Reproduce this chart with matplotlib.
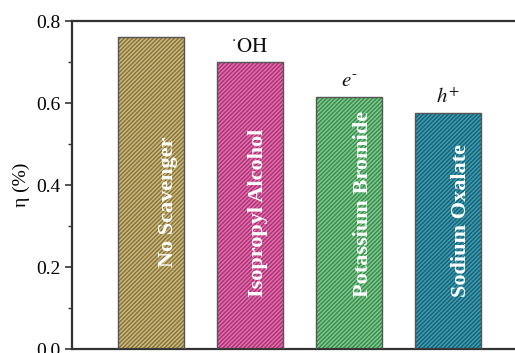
import matplotlib
matplotlib.use("Agg")
import matplotlib.pyplot as plt

categories = ["No Scavenger", "Isopropyl Alcohol", "Potassium Bromide", "Sodium Oxalate"]
values = [0.761, 0.700, 0.615, 0.576]
species = ["", r"$^{\cdot}\mathrm{OH}$", r"$e^{\text{-}}$", r"$h^{+}$"]
fill_colors = ["#d2bd78", "#ee6cae", "#7ecf8e", "#3ea0b8"]
hatch_colors = ["#857344", "#a33876", "#3f8a50", "#1a6173"]
yticks = [0.0, 0.2, 0.4, 0.6, 0.8]

plt.rcParams["font.family"] = ["Liberation Serif", "DejaVu Serif"]
plt.rcParams["mathtext.fontset"] = "stix"
plt.rcParams["hatch.linewidth"] = 1.1

fig = plt.figure(figsize=(5.15, 3.53), dpi=100)
ax = fig.add_axes([72 / 515, 4 / 353, (515 - 72) / 515, (349 - 21) / 353])

x = list(range(len(categories)))
width = 0.67
for i in x:
    ax.bar(i, values[i], width=width, color=fill_colors[i], edgecolor=hatch_colors[i],
           hatch="////////", linewidth=0, zorder=2)
    ax.bar(i, values[i], width=width, color="none", edgecolor="#555555",
           linewidth=1.0, zorder=3)

# rotated names inside bars
name_pos = [(0.17, 0.20), (0.08, 0.127), (0.14, 0.127), (0.13, 0.127)]
for i in x:
    dx, yb = name_pos[i]
    ax.text(i + dx, yb, categories[i], rotation=90, ha="center", va="bottom",
            color="white", fontsize=16, fontweight="bold", zorder=4)

# reactive species labels above bars
for i in x:
    if species[i]:
        ax.text(i, values[i] + 0.012, species[i], ha="center", va="bottom",
                fontsize=15, color="#111111", zorder=4)

ax.set_xlim(-0.8, 3.68)
ax.set_ylim(0, 0.8)
ax.set_yticks(yticks)
ax.set_yticklabels([f"{t:.1f}" for t in yticks])
ax.set_yticks([0.1, 0.3, 0.5, 0.7], minor=True)
ax.set_xticks([])
ax.tick_params(axis="y", which="major", length=5, width=1.2, labelsize=14, color="#333333")
ax.tick_params(axis="y", which="minor", length=3, width=1.0, color="#333333")
ax.set_ylabel("η (%)", fontsize=14, labelpad=4)
ax.spines["right"].set_visible(False)
for s in ["left", "top", "bottom"]:
    ax.spines[s].set_linewidth(1.6)
    ax.spines[s].set_color("#333333")

fig.savefig("out.png", dpi=100)
